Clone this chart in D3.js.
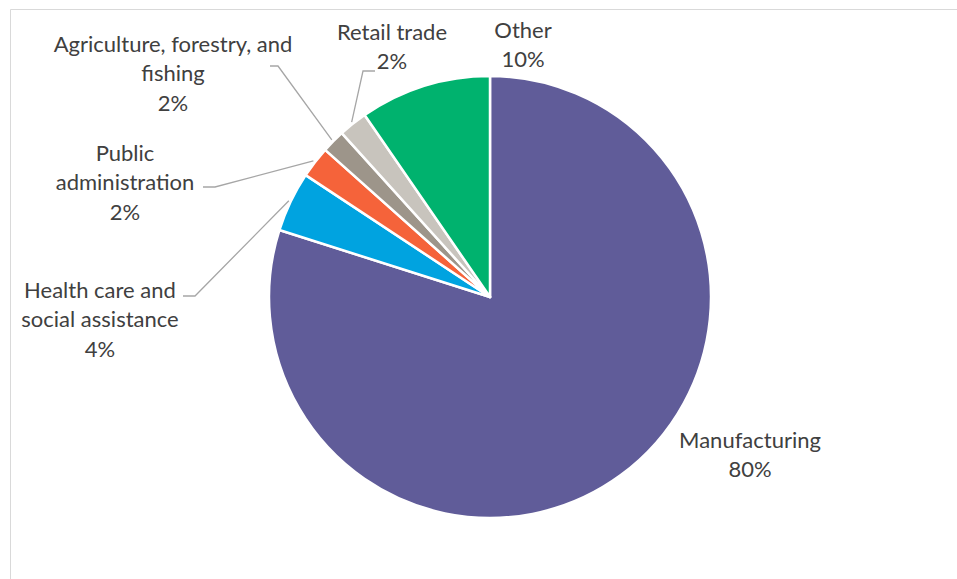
<!DOCTYPE html>
<html>
<head>
<meta charset="utf-8">
<script src="https://cdn.jsdelivr.net/npm/d3@7/dist/d3.min.js"></script>
<style>
  html, body { margin: 0; padding: 0; background: #fff; }
  svg text { font-family: Lato, "Open Sans", sans-serif; fill: #404040; }
</style>
</head>
<body>
<svg id="chart" width="957" height="579"></svg>
<script>
// Employment share by industry (percent)
const categories = [
  "Manufacturing",
  "Health care and social assistance",
  "Public administration",
  "Agriculture, forestry, and fishing",
  "Retail trade",
  "Other"
];
const shares = [79.9, 4.4, 2.3, 1.7, 2.1, 9.6];
const colors = ["#605c99", "#00a3e0", "#f5633a", "#9d958a", "#c8c4bd", "#00b26e"];

// Label text split into lines for each category
const labelLines = [
  ["Manufacturing"],
  ["Health care and", "social assistance"],
  ["Public", "administration"],
  ["Agriculture, forestry, and", "fishing"],
  ["Retail trade"],
  ["Other"]
];

const W = 957, H = 579;
const cx = 490, cy = 297, R = 221;
const lineH = 29.7;

// Label layout: center of first line relative to pie center, and leader elbow
const labelLayout = [
  { x: 260, y: 143, leader: null },
  { x: -390, y: -7, leader: { elbowX: -295, elbowY: -1, endX: -307 } },
  { x: -365, y: -144, leader: { elbowX: -275, elbowY: -110, endX: -287 } },
  { x: -317, y: -253, leader: { elbowX: -212, elbowY: -231, endX: -220 } },
  { x: -98, y: -265, leader: { elbowX: -127, elbowY: -226, endX: -115 } },
  { x: 33, y: -267, leader: null }
];

const svg = d3.select("#chart");

// Chart area frame
svg.append("path")
  .attr("d", `M10.5,${H} V9.5 H${W}`)
  .attr("fill", "none")
  .attr("stroke", "#d9d9d9")
  .attr("stroke-width", 1);

const g = svg.append("g").attr("transform", `translate(${cx},${cy})`);

const pie = d3.pie().sort(null).value(d => d);
const arcs = pie(shares);
const arc = d3.arc().innerRadius(0).outerRadius(R);
const edgeArc = d3.arc().innerRadius(R + 2).outerRadius(R + 2);

g.selectAll("path.slice")
  .data(arcs)
  .join("path")
  .attr("class", "slice")
  .attr("d", arc)
  .attr("fill", (d, i) => colors[i])
  .attr("stroke", "#fff")
  .attr("stroke-width", 2.5)
  .attr("stroke-linejoin", "round");

// Leader lines from slice edge to label
arcs.forEach((d, i) => {
  const lay = labelLayout[i];
  if (!lay.leader) return;
  const [ex, ey] = edgeArc.centroid(d);
  const L = lay.leader;
  g.append("polyline")
    .attr("points", `${ex},${ey} ${L.elbowX},${L.elbowY} ${L.endX},${L.elbowY}`)
    .attr("fill", "none")
    .attr("stroke", "#a6a6a6")
    .attr("stroke-width", 1.3);
});

// Labels: category lines then rounded percentage
arcs.forEach((d, i) => {
  const lay = labelLayout[i];
  const lines = labelLines[i].concat([Math.round(shares[i]) + "%"]);
  const t = g.append("text")
    .attr("text-anchor", "middle")
    .attr("font-size", 22);
  lines.forEach((s, k) => {
    t.append("tspan")
      .attr("x", lay.x)
      .attr("y", lay.y + k * lineH)
      .attr("dy", "0.35em")
      .text(s);
  });
});
</script>
</body>
</html>
